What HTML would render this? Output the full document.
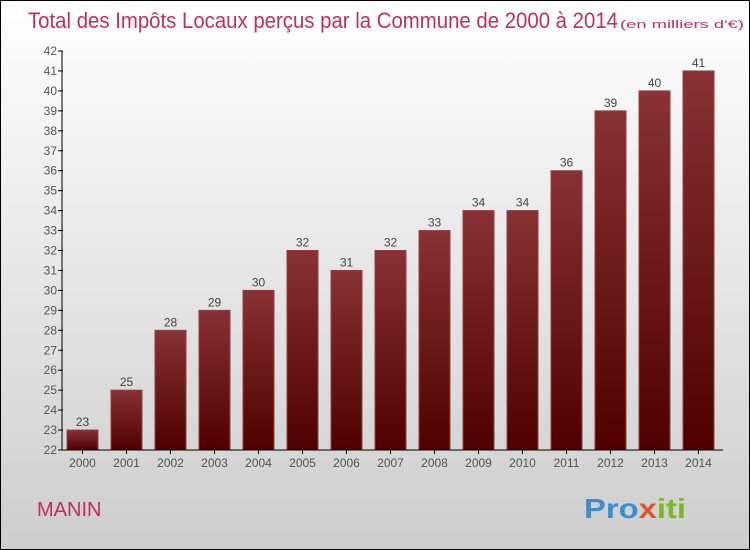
<!DOCTYPE html>
<html><head><meta charset="utf-8"><style>
body{margin:0}
#c{width:748px;height:548px;border:1px solid #000;background:linear-gradient(#ffffff,#f0f0f0 30%,#cdcdcd);position:relative;font-family:"Liberation Sans",sans-serif;overflow:hidden}
</style></head><body>
<div id="c">
<svg width="748" height="548" id="s">
<defs><linearGradient id="g" x1="0" y1="0" x2="0" y2="1"><stop offset="0" stop-color="#883236"/><stop offset="1" stop-color="#500000"/></linearGradient></defs>
<text x="27" y="27" font-size="22" fill="#c0305a" textLength="590" lengthAdjust="spacingAndGlyphs">Total des Impôts Locaux perçus par la Commune de 2000 à 2014</text>
<text x="619" y="27" font-size="11" fill="#c0305a" textLength="124" lengthAdjust="spacingAndGlyphs">(en milliers d'€)</text>
<text x="36" y="515" font-size="20" fill="#c0305a">MANIN</text>
<text x="583" y="517" font-size="28" font-weight="bold" fill="#3a8fd0" textLength="102" lengthAdjust="spacingAndGlyphs">Pro<tspan fill="#e0542a">x</tspan><tspan fill="#7ab82a">iti</tspan></text>
<g id="plot"></g>
</svg></div>
<script>
const years=["2000","2001","2002","2003","2004","2005","2006","2007","2008","2009","2010","2011","2012","2013","2014"];
const values=[23,25,28,29,30,32,31,32,33,34,34,36,39,40,41];
const yTicks=[22,23,24,25,26,27,28,29,30,31,32,33,34,35,36,37,38,39,40,41,42];
const ns="http://www.w3.org/2000/svg";
const g=document.getElementById('plot');
const y0=449,yMin=22,yMax=42,ppu=19.95;
const y=v=>y0-(v-yMin)*ppu;
const x=i=>66+44*i;
function mk(t,a){const e=document.createElementNS(ns,t);for(const k in a)e.setAttribute(k,a[k]);g.appendChild(e);return e;}
yTicks.forEach(t=>{
 const l=mk('line',{x1:57,x2:62,y1:y(t),y2:y(t),stroke:'#000'});
 
 
 const tx=mk('text',{x:56,y:y(t)+4,'text-anchor':'end','font-size':12,fill:'#555'});
 tx.textContent=t;
 
 
});
values.forEach((v,i)=>{
 const r=mk('rect',{x:x(i),y:y(v),width:31,height:y0-y(v),fill:'url(#g)',stroke:'#93403f','stroke-width':1});
 
 
 const lb=mk('text',{x:x(i)+15.5,y:y(v)-4,'text-anchor':'middle','font-size':12,fill:'#444'});
 lb.textContent=v;
 
 
 const tk=mk('line',{x1:x(i)+15.5,x2:x(i)+15.5,y1:y0,y2:y0+4,stroke:'#000'});
 
 
 const xl=mk('text',{x:x(i)+15.5,y:y0+17,'text-anchor':'middle','font-size':12,fill:'#555'});
 xl.textContent=years[i];
 
 
});
const ya=mk('line',{x1:61,x2:61,y1:y(yMax),y2:y0,stroke:'#000'});


const xa=mk('line',{x1:57,x2:722,y1:y0,y2:y0,stroke:'#000'});


</script>
</body></html>
